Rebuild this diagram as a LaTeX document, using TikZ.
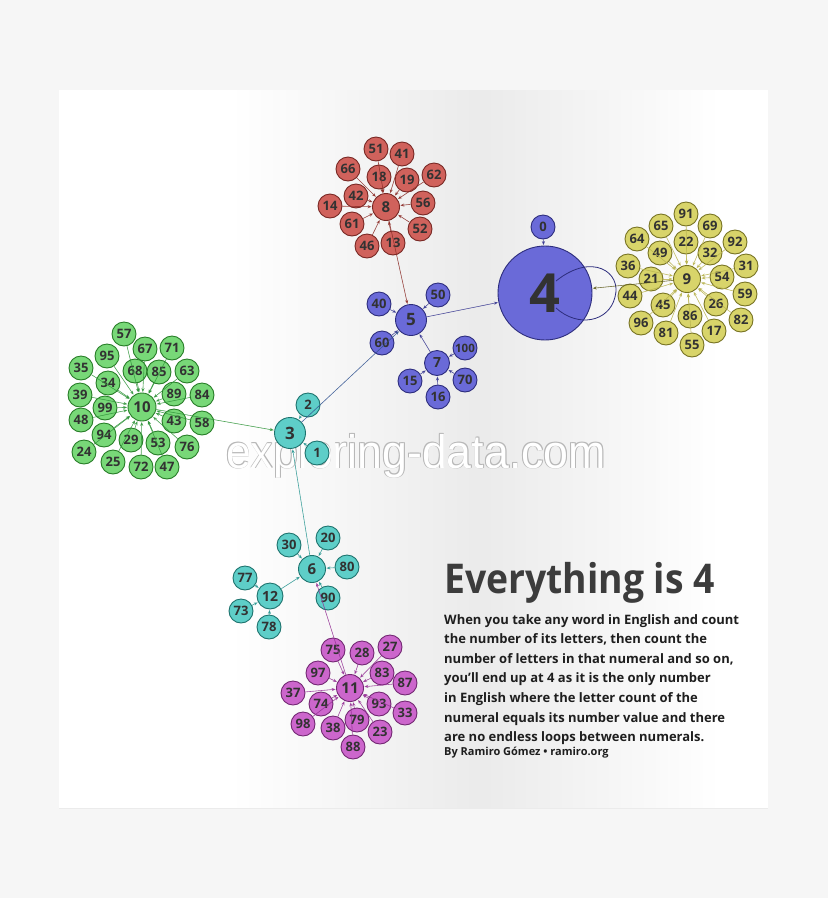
\documentclass[tikz,border=0pt]{standalone}
\usepackage{fontspec}
\setmainfont{Open Sans}
\newfontfamily\wmfont{Liberation Sans}
\usetikzlibrary{arrows.meta}
\definecolor{pagebg}{RGB}{246,246,246}
\definecolor{numtext}{RGB}{50,50,50}
\definecolor{redF}{RGB}{208,98,92}\definecolor{redD}{RGB}{120,40,36}\definecolor{redE}{RGB}{140,45,40}
\definecolor{yelF}{RGB}{216,212,106}\definecolor{yelD}{RGB}{120,116,36}\definecolor{yelE}{RGB}{185,180,80}
\definecolor{grnF}{RGB}{120,216,120}\definecolor{grnD}{RGB}{40,125,40}\definecolor{grnE}{RGB}{50,150,60}
\definecolor{bluF}{RGB}{106,106,216}\definecolor{bluD}{RGB}{45,45,125}\definecolor{bluE}{RGB}{55,55,145}
\definecolor{cyaF}{RGB}{94,206,200}\definecolor{cyaD}{RGB}{30,115,110}\definecolor{cyaE}{RGB}{40,150,145}
\definecolor{magF}{RGB}{204,102,204}\definecolor{magD}{RGB}{115,40,115}\definecolor{magE}{RGB}{150,50,150}
\definecolor{titlec}{RGB}{60,60,60}
\definecolor{bodyc}{RGB}{30,30,30}
\tikzset{
  nd/.style={circle, draw, line width=0.9pt, inner sep=0pt, minimum size=24pt, text=numtext,
    font=\bfseries\fontsize{13}{13}\selectfont},
  hubnd/.style={nd, minimum size=27pt, font=\bfseries\fontsize{15}{15}\selectfont},
  bignd/.style={nd, minimum size=31pt, font=\bfseries\fontsize{17}{17}\selectfont},
  rn/.style={fill=redF, draw=redD},
  yn/.style={fill=yelF, draw=yelD},
  gn/.style={fill=grnF, draw=grnD},
  bn/.style={fill=bluF, draw=bluD},
  cn/.style={fill=cyaF, draw=cyaD},
  mn/.style={fill=magF, draw=magD},
  ed/.style={-{Stealth[length=4pt,width=3.2pt]}, line width=0.6pt, draw opacity=0.8, fill opacity=0.8, shorten >=0.5pt},
  re/.style={ed, draw=redE, fill=redE},
  ye/.style={ed, draw=yelE, fill=yelE},
  ge/.style={ed, draw=grnE, fill=grnE},
  be/.style={ed, draw=bluE, fill=bluE},
  ce/.style={ed, draw=cyaE, fill=cyaE},
  me/.style={ed, draw=magE, fill=magE},
  wmshadow/.style={anchor=base, text=black!28, font=\wmfont\fontsize{47}{47}\selectfont},
}
\newcommand{\wmtext}{\scalebox{0.95}[1]{exploring-data.com}}
\begin{document}
\begin{tikzpicture}[x=1pt,y=-1pt]
\useasboundingbox (0,0) rectangle (828,898);
\fill[pagebg] (0,0) rectangle (828,898);
% poster
\fill[white] (59,90) rectangle (768,808);
\shade[left color=white, right color=black!8] (230,90) rectangle (480,808);
\shade[left color=black!8, right color=white] (480,90) rectangle (720,808);
\draw[black!8, line width=0.6pt] (59,808) -- (768,808);

% ---------- watermark (behind the graph) ----------
\node[wmshadow] (wma) at (416.8,468.8) {\wmtext};
\node[wmshadow] (wmb) at (415.2,468.8) {\wmtext};
\node[wmshadow] (wmc) at (416.8,467.2) {\wmtext};
\node[wmshadow] (wmd) at (415.2,467.2) {\wmtext};
\node[wmshadow, text=white] (wm) at (416,468) {\wmtext};

% ---------- nodes ----------
% red
\node[hubnd,rn] (n8) at (386,207) {8};
\foreach \n/\x/\y in {51/376/149, 41/402/154, 66/348/169, 18/379/177, 19/407/180, 62/434/175,
  42/356/196, 56/423/203, 14/330/206, 61/352/224, 52/420/229, 46/367/246, 13/393/243}
  \node[nd,rn] (n\n) at (\x,\y) {\n};
% blue
\node[circle, draw=bluD, fill=bluF, line width=0.9pt, minimum size=94pt, inner sep=0pt,
  text=numtext, font=\bfseries\fontsize{54}{54}\selectfont] (n4) at (545,293) {4};
\node[bignd,bn] (n5) at (411,320) {5};
\node[hubnd,bn,minimum size=25pt,font=\bfseries\fontsize{14}{14}\selectfont] (n7) at (437,363) {7};
\foreach \n/\x/\y in {40/379/304, 50/438/295, 60/382/343, 15/410/381, 70/465/380, 16/438/397, 0/543/227}
  \node[nd,bn] (n\n) at (\x,\y) {\n};
\node[nd,bn,font=\bfseries\fontsize{11.5}{11.5}\selectfont] (n100) at (465,348) {100};
% cyan
\node[bignd,cn] (n3) at (290,433) {3};
\node[hubnd,cn] (n6) at (312,569) {6};
\node[hubnd,cn,minimum size=26pt,font=\bfseries\fontsize{14}{14}\selectfont] (n12) at (270,596) {12};
\foreach \n/\x/\y in {2/308/405, 1/317/453, 30/289/545, 20/328/538, 80/347/567, 90/328/598,
  77/245/578, 73/241/611, 78/269/627}
  \node[nd,cn] (n\n) at (\x,\y) {\n};
% green
\node[hubnd,gn,minimum size=28pt] (n10) at (142,407) {10};
\foreach \n/\x/\y in {57/124/334, 95/107/356, 67/145/349, 71/172/348, 35/81/368, 68/135/371,
  85/159/372, 63/187/371, 34/108/383, 39/80/395, 89/174/394, 84/202/395, 99/105/408, 48/81/420,
  43/174/421, 58/202/423, 94/104/435, 29/131/440, 53/158/443, 76/187/447, 24/84/452, 25/113/462,
  72/141/467, 47/167/467}
  \node[nd,gn] (n\n) at (\x,\y) {\n};
% yellow
\node[hubnd,yn] (n9) at (687,279) {9};
\foreach \n/\x/\y in {91/686/214, 65/661/226, 69/710/226, 64/637/239, 22/686/242, 92/735/242,
  49/660/253, 32/710/253, 36/628/266, 21/651/279, 54/722/277, 31/746/266, 44/630/296, 59/745/294,
  45/663/305, 26/716/304, 86/690/316, 96/641/323, 82/741/320, 81/666/333, 17/714/331, 55/692/345}
  \node[nd,yn] (n\n) at (\x,\y) {\n};
% magenta
\node[hubnd,mn] (n11) at (350,688) {11};
\foreach \n/\x/\y in {75/333/650, 28/362/653, 27/390/647, 97/318/673, 83/382/673, 87/405/683,
  37/293/693, 74/321/704, 93/379/704, 33/405/713, 98/303/724, 38/333/728, 79/357/720, 23/380/732,
  88/353/747}
  \node[nd,mn] (n\n) at (\x,\y) {\n};

% ---------- edges ----------
\foreach \n in {51,41,66,18,19,62,42,56,14,61,52,46,13} \draw[re] (n\n) -- (n8);
\draw[re] (n8) -- (n5);
\foreach \n in {40,50,60,7} \draw[be] (n\n) -- (n5);
\foreach \n in {100,15,70,16} \draw[be] (n\n) -- (n7);
\draw[be] (n5) -- (n4);
\draw[be] (n0) -- (n4);
\draw[bluD, line width=0.8pt] (556,281) .. controls (592,252) and (622,272) .. (615,297)
  .. controls (609,322) and (578,328) .. (556,308);
\foreach \n in {91,65,69,64,22,92,49,32,36,21,54,31,44,59,45,26,86,96,82,81,17,55} \draw[ye] (n\n) -- (n9);
\draw[ed, draw=yelD!80!black, fill=yelD!80!black] (n9) -- (n4);
\foreach \n in {57,95,67,71,35,68,85,63,34,39,89,84,99,48,43,58,94,29,53,76,24,25,72,47} \draw[ge] (n\n) -- (n10);
\draw[ge] (n10) -- (n3);
\draw[ed, draw=bluE!70!cyaE, fill=bluE!70!cyaE] (n3) -- (n5);
\foreach \n in {2,1,6} \draw[ce] (n\n) -- (n3);
\foreach \n in {30,20,80,90,12} \draw[ce] (n\n) -- (n6);
\foreach \n in {77,73,78} \draw[ce] (n\n) -- (n12);
\foreach \n in {75,28,27,97,83,87,37,74,93,33,98,38,79,23,88} \draw[me] (n\n) -- (n11);
\draw[me] (n11) -- (n6);

% ---------- text ----------
\node[anchor=base west, inner sep=0pt, text=titlec, font=\bfseries\fontsize{41}{41}\selectfont] (title) at (444,593) {\scalebox{0.91}[1]{Everything is 4}};
\node[anchor=north west, inner sep=0pt, align=left, text=bodyc, font=\bfseries\fontsize{13}{19.6}\selectfont] (body) at (444,614)
 {When you take any word in English and count\\
  the number of its letters, then count the\\
  number of letters in that numeral and so on,\\
  you'll end up at 4 as it is the only number\\
  in English where the letter count of the\\
  numeral equals its number value and there\\
  are no endless loops between numerals.};
\node[anchor=base west, inner sep=0pt, text=bodyc, font=\bfseries\fontsize{11}{11}\selectfont] (by) at (444,755) {By Ramiro Gómez • ramiro.org};
\end{tikzpicture}
\end{document}
